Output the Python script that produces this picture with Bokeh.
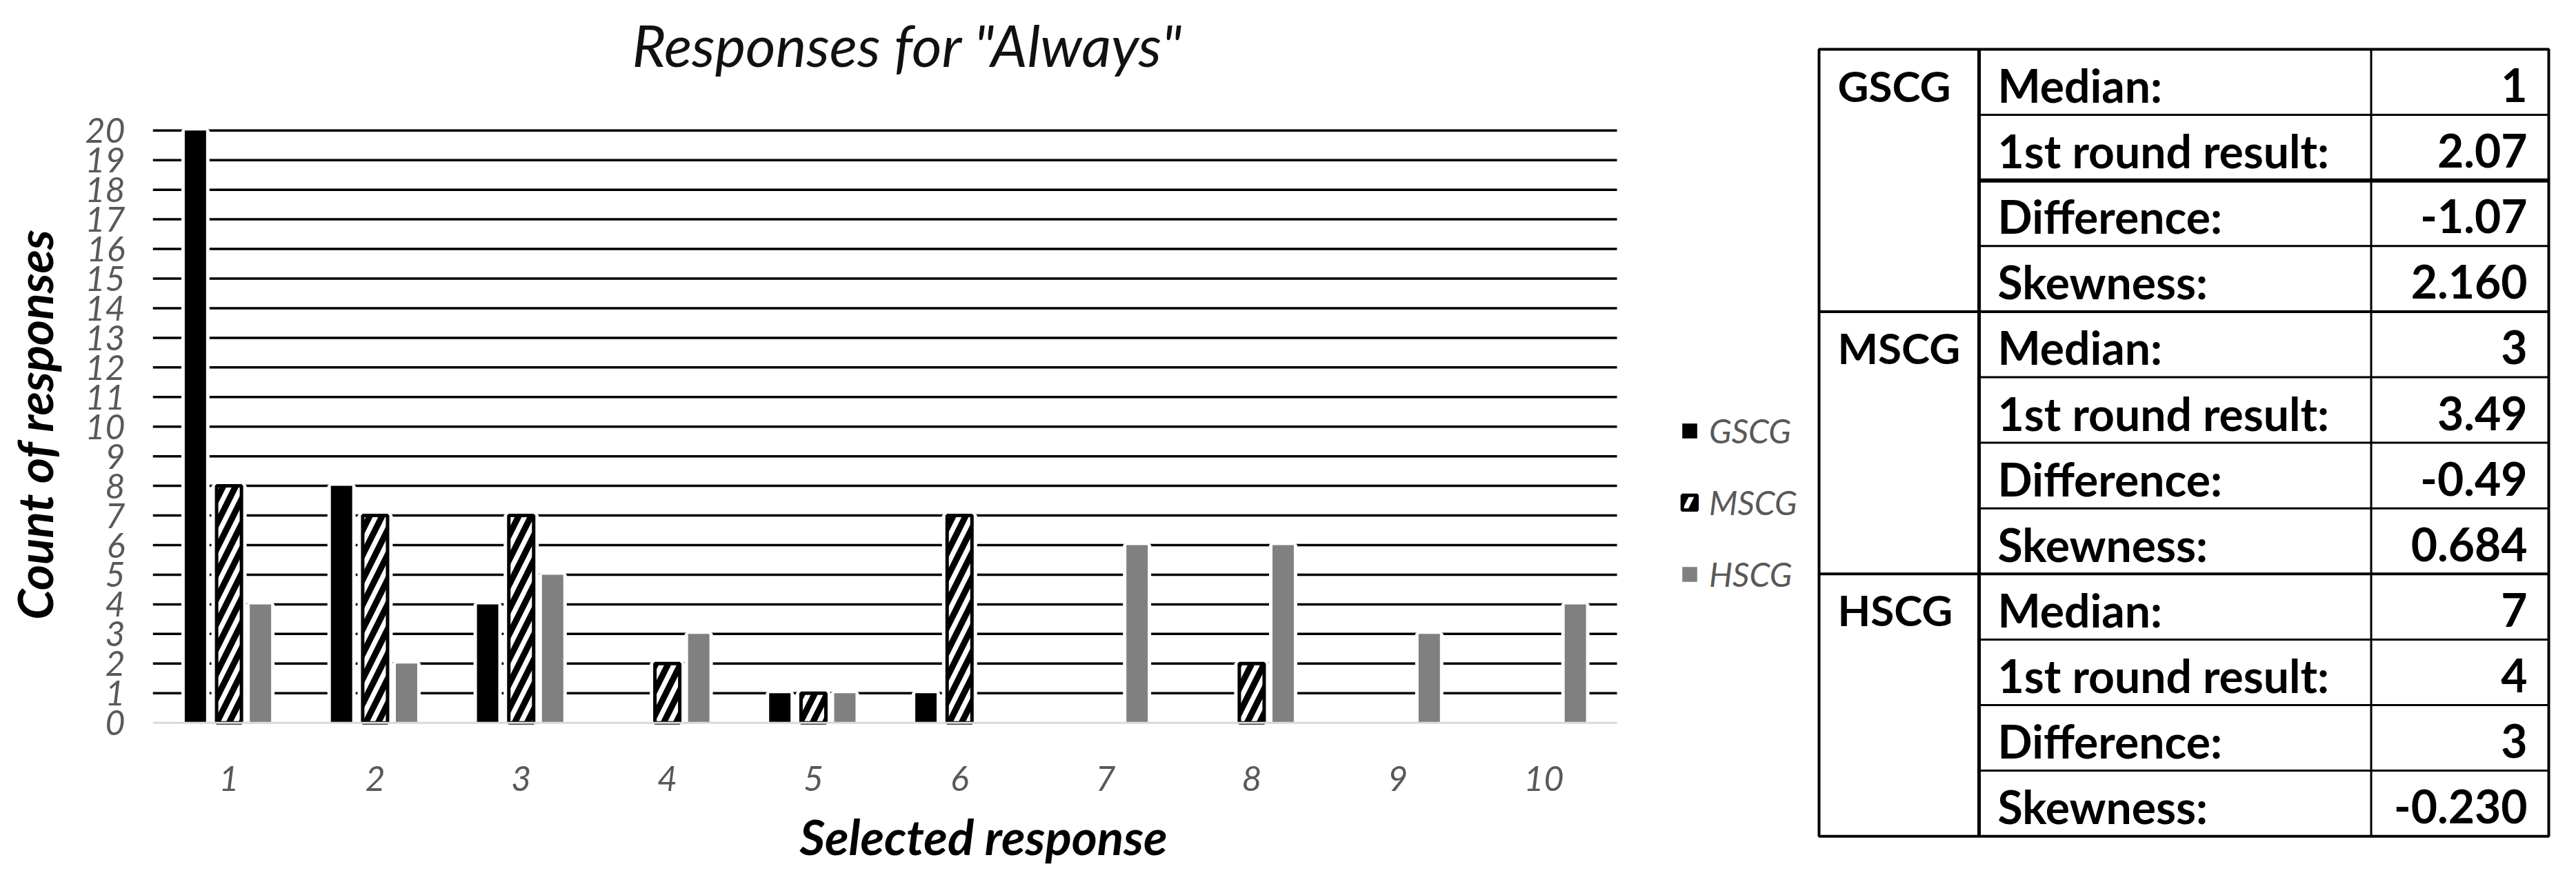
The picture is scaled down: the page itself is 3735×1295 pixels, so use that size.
from bokeh.plotting import figure
from bokeh.models import ColumnDataSource, Range1d, FixedTicker, Legend, LegendItem, Title
from bokeh.layouts import row
from bokeh.embed import file_html
from bokeh.resources import INLINE
from bokeh.core.properties import value

# ---------------- data ----------------
responses = [1, 2, 3, 4, 5, 6, 7, 8, 9, 10]
gscg = [20, 8, 4, 0, 1, 1, 0, 0, 0, 0]
mscg = [8, 7, 7, 2, 1, 7, 0, 2, 0, 0]
hscg = [4, 2, 5, 3, 1, 0, 6, 6, 3, 4]
series_names = ["GSCG", "MSCG", "HSCG"]
y_ticks = list(range(0, 21))
chart_title = 'Responses for "Always"'
x_title = "Selected response"
y_title = "Count of responses"

table_groups = ["GSCG", "MSCG", "HSCG"]
table_stats = ["Median:", "1st round result:", "Difference:", "Skewness:"]
gscg_stats = ["1", "2.07", "-1.07", "2.160"]
mscg_stats = ["3", "3.49", "-0.49", "0.684"]
hscg_stats = ["7", "4", "3", "-0.230"]

# ---------------- layout / style ----------------
FONT = "Lato"
H = 1279
W_CHART = 2630
W_TABLE = 3719 - W_CHART
TICK_GREY = "#595959"
BAR_GREY = "#808080"

X_LO, X_HI = 0.478, 10.50          # extent of the plotting area (gridlines)
X_END = 11.85                      # frame continues to the right to hold the legend
Y_LO, Y_HI = -0.1, 20.25
OFFSETS = [-0.23, 0.0, 0.215]
W_SOLID = 0.146
W_HATCH = 0.17

p = figure(width=W_CHART, height=H, output_backend="svg", toolbar_location=None,
           x_range=Range1d(X_LO, X_END), y_range=Range1d(Y_LO, Y_HI),
           min_border_left=221, min_border_right=0, min_border_top=178,
           min_border_bottom=227)
p.outline_line_color = None
p.frame_align = False

# horizontal gridlines
grid_vals = y_ticks[1:]
p.segment(x0=[X_LO] * len(grid_vals), x1=[X_HI] * len(grid_vals), y0=grid_vals,
          y1=grid_vals, line_color="black", line_width=3.5, level="underlay")


def nonzero_source(vals, off):
    keep = [i for i, v in enumerate(vals) if v > 0]
    return ColumnDataSource(dict(x=[responses[i] + off for i in keep],
                                 top=[vals[i] for i in keep]))


src_g = nonzero_source(gscg, OFFSETS[0])
src_m = nonzero_source(mscg, OFFSETS[1])
src_h = nonzero_source(hscg, OFFSETS[2])

# white halos that interrupt the gridlines around each bar
p.vbar(x="x", top="top", width=W_SOLID, source=src_g, fill_color="white",
       line_color="white", line_width=10)
p.vbar(x="x", top="top", width=W_HATCH, source=src_m, fill_color="white",
       line_color="white", line_width=15)
p.vbar(x="x", top="top", width=W_SOLID, source=src_h, fill_color="white",
       line_color="white", line_width=10)

r_g = p.vbar(x="x", top="top", width=W_SOLID, source=src_g, fill_color="black",
             line_color=None)
r_m = p.vbar(x="x", top="top", width=W_HATCH, source=src_m, fill_color="white",
             line_color="black", line_width=5, hatch_pattern="/",
             hatch_color="black", hatch_scale=36, hatch_weight=9)
r_h = p.vbar(x="x", top="top", width=W_SOLID, source=src_h, fill_color=BAR_GREY,
             line_color=None)

# category axis baseline
p.segment(x0=[X_LO], x1=[X_HI], y0=[0], y1=[0], line_color="#d9d9d9", line_width=3)

# axes
p.xaxis.ticker = FixedTicker(ticks=responses)
p.yaxis.ticker = FixedTicker(ticks=y_ticks)
p.xgrid.grid_line_color = None
p.ygrid.grid_line_color = None

for ax in (p.xaxis, p.yaxis):
    ax.axis_line_color = None
    ax.major_tick_line_color = None
    ax.minor_tick_line_color = None
    ax.major_label_text_font = FONT
    ax.major_label_text_font_style = "italic"
    ax.major_label_text_font_size = "50px"
    ax.major_label_text_color = TICK_GREY
    ax.axis_label_text_font = FONT
    ax.axis_label_text_font_style = "bold italic"
    ax.axis_label_text_font_size = "71px"
    ax.axis_label_text_color = "black"

p.xaxis.axis_label = x_title
p.yaxis.axis_label = y_title
p.xaxis.major_label_standoff = 52
p.yaxis.major_label_standoff = 34
p.xaxis.axis_label_standoff = 20
p.yaxis.axis_label_standoff = 28

# spacer between title and plotting area (closest to the frame)
p.add_layout(Title(text=" ", text_font_size="1px", standoff=56), "above")

p.title.text = chart_title
p.title.text_font = FONT
p.title.text_font_style = "italic"
p.title.text_font_size = "84px"
p.title.text_color = "#111111"
p.title.align = "left"
p.title.offset = 695
p.title.standoff = 10

legend = Legend(items=[LegendItem(label=series_names[0], renderers=[r_g]),
                       LegendItem(label=series_names[1], renderers=[r_m]),
                       LegendItem(label=series_names[2], renderers=[r_h])],
                location=(2215, 191))
legend.border_line_color = None
legend.background_fill_alpha = 0
legend.padding = 0
legend.margin = 0
legend.glyph_width = 27
legend.glyph_height = 27
legend.label_height = 27
legend.label_standoff = 15
legend.spacing = 47
legend.label_text_font = FONT
legend.label_text_font_style = "italic"
legend.label_text_font_size = "48px"
legend.label_text_color = TICK_GREY
p.add_layout(legend, "center")

# ---------------- statistics table ----------------
T_LEFT, T_COL1, T_COL2, T_RIGHT = 2645, 2877, 3445.5, 3703
T_TOP, T_ROW = 79, 95.1
n_rows = len(table_groups) * len(table_stats)
T_BOTTOM = T_TOP + n_rows * T_ROW

t = figure(width=W_TABLE, height=H, output_backend="svg", toolbar_location=None,
           x_range=Range1d(2638, 3727), y_range=Range1d(1287, 8),
           x_axis_location=None, y_axis_location=None, min_border=0)
t.grid.visible = False
t.outline_line_color = None
t.frame_align = False

thin_y = [T_TOP + i * T_ROW for i in range(1, n_rows) if i % len(table_stats) != 0 and i != 2]
t.segment(x0=[T_COL1] * len(thin_y), x1=[T_RIGHT] * len(thin_y), y0=thin_y, y1=thin_y,
          line_color="black", line_width=3)
thick_y = [T_TOP + 2 * T_ROW]
t.segment(x0=[T_COL1], x1=[T_RIGHT], y0=thick_y, y1=thick_y, line_color="black", line_width=6)
group_y = [T_TOP + i * T_ROW for i in range(len(table_stats), n_rows, len(table_stats))]
t.segment(x0=[T_LEFT] * len(group_y), x1=[T_RIGHT] * len(group_y), y0=group_y, y1=group_y,
          line_color="black", line_width=4)
t.segment(x0=[T_COL2], x1=[T_COL2], y0=[T_TOP], y1=[T_BOTTOM], line_color="black", line_width=3)
t.segment(x0=[T_COL1], x1=[T_COL1], y0=[T_TOP], y1=[T_BOTTOM], line_color="black", line_width=5)
t.quad(left=[T_LEFT], right=[T_RIGHT], top=[T_TOP], bottom=[T_BOTTOM],
       fill_color=None, line_color="black", line_width=4)

all_stats = [gscg_stats, mscg_stats, hscg_stats]
TXT_DY = 52
lab_y, lab_t, val_t = [], [], []
for g, stats in enumerate(all_stats):
    for s, v in enumerate(stats):
        lab_y.append(T_TOP + (g * len(table_stats) + s) * T_ROW + TXT_DY)
        lab_t.append(table_stats[s])
        val_t.append(v)
grp_y = [T_TOP + g * len(table_stats) * T_ROW + TXT_DY for g in range(len(table_groups))]

common = dict(text_font=value(FONT), text_font_style="bold",
              text_color="black", text_baseline="middle")
t.text(x=[T_LEFT + 27] * len(grp_y), y=grp_y, text=table_groups, text_align="left",
       text_font_size="62px", **common)
t.text(x=[T_COL1 + 27] * len(lab_y), y=lab_y, text=lab_t, text_align="left",
       text_font_size="66px", **common)
t.text(x=[T_RIGHT - 31] * len(lab_y), y=lab_y, text=val_t, text_align="right",
       text_font_size="66px", **common)

layout = row(p, t)
open("out.html", "w").write(file_html(layout, INLINE))
